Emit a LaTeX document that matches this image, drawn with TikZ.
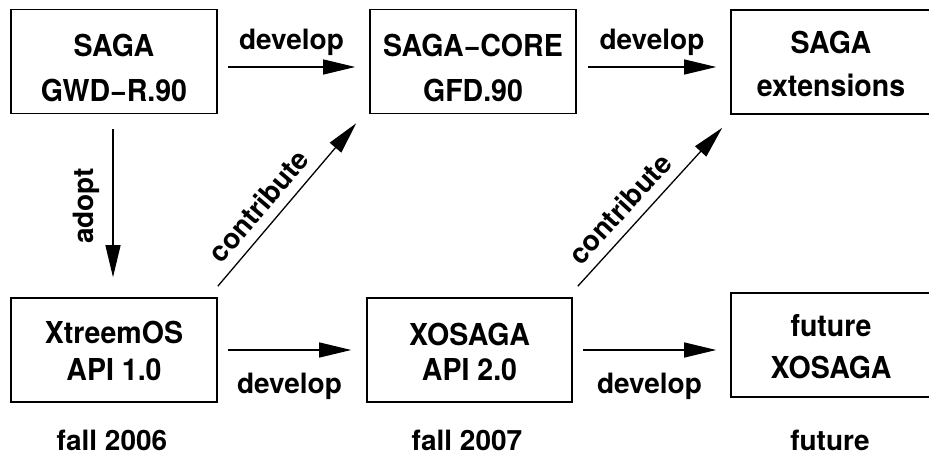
\documentclass[tikz,border=0pt]{standalone}
\usepackage{fontspec}
\setmainfont{TeX Gyre Heros}
\newfontfamily\boxfont{TeX Gyre Heros}[FakeStretch=0.945]
\usetikzlibrary{arrows.meta,calc}
\newcommand\liftline[1]{\rule{0pt}{#1}}
\newcommand\boxtext[1]{\boxfont\bfseries\fontsize{30.2}{#1}\selectfont}
\begin{document}
\begin{tikzpicture}[x=1pt,y=-1pt,
  box/.style={draw, line width=1.6pt, inner sep=0pt, align=center,
    minimum width=206pt, minimum height=104pt},
  lbl/.style={inner sep=0pt, font=\fontsize{28}{34}\selectfont\bfseries},
  arr/.style={line width=1.3pt, -{Triangle[length=32pt,width=15pt]}}]
\useasboundingbox (0,0) rectangle (929,462);

% boxes
\node[box, font=\boxtext{45}] (b1) at (114,61.5) {\liftline{36pt}SAGA\\GWD−R.90};
\node[box, font=\boxtext{45}] (b2) at (473,61.5) {\liftline{36pt}SAGA−CORE\\GFD.90};
\node[box, font=\boxtext{43.4}, minimum width=200pt] (b3) at (831,62) {\liftline{26.7pt}SAGA\\extensions};
\node[box, font=\boxtext{36.7}] (b4) at (114,350) {\liftline{23.9pt}XtreemOS\\API 1.0};
\node[box, font=\boxtext{35}, minimum width=205pt] (b5) at (469.5,350) {\liftline{25.3pt}XOSAGA\\API 2.0};
\node[box, font=\boxtext{41.7}, minimum width=200pt] (b6) at (831,345) {\liftline{25.4pt}future\\XOSAGA};

% develop arrows
\draw[arr] ($(b1.east)+(10,5.5)$) -- node[lbl, anchor=base, yshift=17pt] (d1) {develop} ($(b2.west)+(-14,5.5)$);
\draw[arr] ($(b2.east)+(11,5.5)$) -- node[lbl, anchor=base, yshift=17pt] (d2) {develop} ($(b3.west)+(-14,5)$);
\draw[arr] ($(b4.east)+(10,0)$) -- node[lbl, anchor=base, yshift=-43pt] (d3) {develop} ($(b5.west)+(-15,0)$);
\draw[arr] ($(b5.east)+(10,0)$) -- node[lbl, anchor=base, yshift=-43pt] (d4) {develop} ($(b6.west)+(-14,5)$);

% adopt
\draw[arr] ($(b1.south)+(-1,15)$) -- ($(b4.north)+(-1,-20)$);
\node[lbl, rotate=90, anchor=south] (ad) at ($(b1.south)!0.5!(b4.north)+(-14,0)$) {adopt};

% contribute
\draw[arr] ($(b4.north east)+(0,-11)$) -- node[lbl, sloped, pos=0.41, above=10pt] (c1) {contribute} ($(b2.south west)+(-13,9)$);
\draw[arr] ($(b5.north east)+(5,-11)$) -- node[lbl, sloped, pos=0.40, above=10pt] (c2) {contribute} ($(b3.south west)+(-8,13)$);

% time labels
\node[lbl, anchor=base] (t1) at (112,450) {fall 2006};
\node[lbl, anchor=base] (t2) at (467,450) {fall 2007};
\node[lbl, anchor=base] (t3) at (830,450) {future};
\end{tikzpicture}
\end{document}
